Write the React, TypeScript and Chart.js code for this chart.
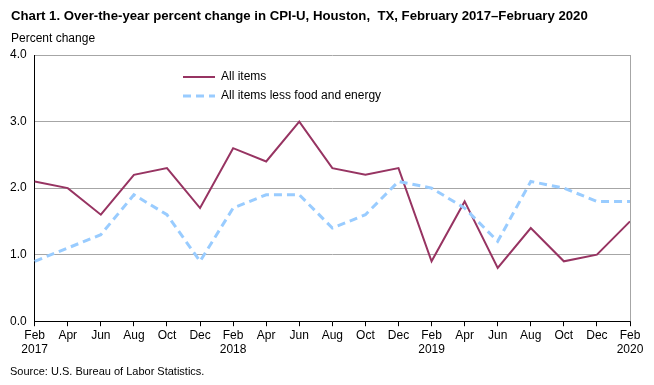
import React, { useEffect, useRef } from "react";
import { Chart, registerables } from "chart.js";

Chart.register(...registerables);

const categories: string[][] = [
  ["Feb", "2017"], ["Apr"], ["Jun"], ["Aug"], ["Oct"], ["Dec"],
  ["Feb", "2018"], ["Apr"], ["Jun"], ["Aug"], ["Oct"], ["Dec"],
  ["Feb", "2019"], ["Apr"], ["Jun"], ["Aug"], ["Oct"], ["Dec"],
  ["Feb", "2020"],
];
const allItems = [2.1, 2.0, 1.6, 2.2, 2.3, 1.7, 2.6, 2.4, 3.0, 2.3, 2.2, 2.3, 0.9, 1.8, 0.8, 1.4, 0.9, 1.0, 1.5];
const coreItems = [0.9, 1.1, 1.3, 1.9, 1.6, 0.9, 1.7, 1.9, 1.9, 1.4, 1.6, 2.1, 2.0, 1.7, 1.2, 2.1, 2.0, 1.8, 1.8];
const seriesNames = ["All items", "All items less food and energy"];
const titleText = "Chart 1. Over-the-year percent change in CPI-U, Houston,  TX, February 2017\u2013February 2020";
const yLabelText = "Percent change";
const sourceText = "Source: U.S. Bureau of Labor Statistics.";

const FONT = "'Liberation Sans', Arial, sans-serif";
const MAROON = "#973462";
const LIGHTBLUE = "#99CCFF";

const decorPlugin = {
  id: "decor",
  afterDraw(chart: any) {
    const { ctx, chartArea } = chart;
    ctx.save();
    // right border
    ctx.strokeStyle = "#a6a6a6";
    ctx.lineWidth = 1;
    ctx.beginPath();
    ctx.moveTo(Math.round(chartArea.right) + 0.5, chartArea.top);
    ctx.lineTo(Math.round(chartArea.right) + 0.5, chartArea.bottom);
    ctx.stroke();
    ctx.fillStyle = "#000";
    ctx.textBaseline = "alphabetic";
    ctx.textAlign = "left";
    ctx.font = `bold 13.2px ${FONT}`;
    ctx.fillText(titleText, 11, 20);
    ctx.font = `12px ${FONT}`;
    ctx.fillText(yLabelText, 11, 42);
    ctx.font = `11px ${FONT}`;
    ctx.fillText(sourceText, 10, 375);
    // legend
    const lx = 183;
    const ly1 = 77;
    const ly2 = 96;
    ctx.strokeStyle = MAROON;
    ctx.lineWidth = 2;
    ctx.beginPath();
    ctx.moveTo(lx, ly1);
    ctx.lineTo(lx + 32, ly1);
    ctx.stroke();
    ctx.strokeStyle = LIGHTBLUE;
    ctx.lineWidth = 3;
    ctx.setLineDash([8, 5]);
    ctx.beginPath();
    ctx.moveTo(lx, ly2);
    ctx.lineTo(lx + 32, ly2);
    ctx.stroke();
    ctx.setLineDash([]);
    ctx.fillStyle = "#000";
    ctx.font = `12px ${FONT}`;
    ctx.textBaseline = "middle";
    ctx.fillText(seriesNames[0], lx + 38, ly1);
    ctx.fillText(seriesNames[1], lx + 38, ly2);
    ctx.restore();
  },
};

export default function App() {
  const ref = useRef<HTMLCanvasElement>(null);
  useEffect(() => {
    document.body.style.margin = "0";
    const chart = new Chart(ref.current!, {
      type: "line",
      data: {
        labels: categories,
        datasets: [
          {
            label: seriesNames[1],
            data: coreItems,
            borderColor: LIGHTBLUE,
            borderWidth: 3,
            borderDash: [8, 5],
            pointRadius: 0,
            tension: 0,
            fill: false,
          },
          {
            label: seriesNames[0],
            data: allItems,
            borderColor: MAROON,
            borderWidth: 2,
            pointRadius: 0,
            tension: 0,
            fill: false,
          },
        ],
      },
      options: {
        animation: false,
        responsive: false,
        maintainAspectRatio: false,
        layout: { padding: { left: 2, right: 24, top: 55, bottom: 26 } },
        plugins: {
          legend: { display: false },
          title: { display: false },
          tooltip: { enabled: false },
        },
        scales: {
          x: {
            offset: false,
            grid: {
              display: true,
              drawOnChartArea: false,
              drawTicks: true,
              tickLength: 5,
              color: "#000",
            },
            border: { color: "#000", width: 1 },
            ticks: {
              color: "#000",
              font: { family: FONT, size: 12 },
              maxRotation: 0,
              autoSkip: false,
              padding: 2,
            },
          },
          y: {
            min: 0,
            max: 4,
            grid: { color: "#a6a6a6", drawTicks: false },
            border: { color: "#000", width: 1 },
            ticks: {
              stepSize: 1,
              color: "#000",
              font: { family: FONT, size: 12 },
              padding: 8,
              callback: (v: any) => Number(v).toFixed(1),
            },
          },
        },
      },
      plugins: [decorPlugin],
    });
    return () => chart.destroy();
  }, []);
  return <canvas ref={ref} width={654} height={385} style={{ display: "block" }} />;
}
